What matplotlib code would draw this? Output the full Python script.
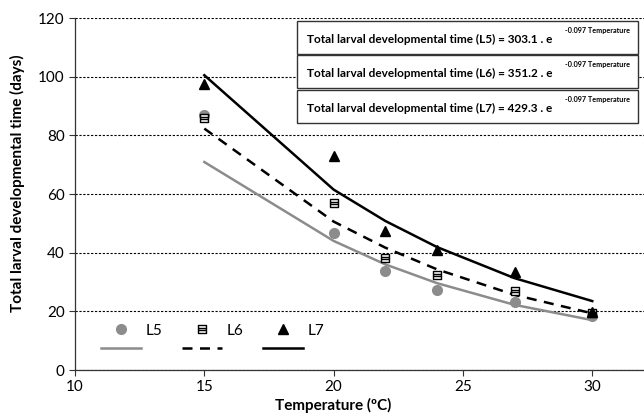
import numpy as np
import matplotlib
matplotlib.use("Agg")
import matplotlib.pyplot as plt
from matplotlib.path import Path
from matplotlib.lines import Line2D
from matplotlib.text import Annotation

plt.rcParams['font.family'] = ['Lato', 'DejaVu Sans']

# data
temps = [15, 20, 22, 24, 27, 30]
obs_l5 = [86.9, 46.6, 33.6, 27.4, 23.1, 18.4]
obs_l6 = [86.0, 56.8, 38.3, 32.4, 27.0, 19.4]
obs_l7 = [97.5, 73.0, 47.5, 41.0, 33.3, 19.9]
fit_l5 = [70.9, 44.0, 36.0, 29.6, 22.2, 17.0]
fit_l6 = [82.3, 50.6, 41.7, 34.3, 25.6, 19.3]
fit_l7 = [100.5, 61.5, 50.8, 41.9, 31.3, 23.5]
equations = [
    ("L5", "303.1"),
    ("L6", "351.2"),
    ("L7", "429.3"),
]
yticks = [0, 20, 40, 60, 80, 100, 120]
xticks = [10, 15, 20, 25, 30]

# square marker with two horizontal bars inside
sq_marker = Path(
    [(-1, -1), (1, -1), (1, 1), (-1, 1), (-1, -1),
     (-1, 0.33), (1, 0.33), (-1, -0.33), (1, -0.33)],
    [Path.MOVETO, Path.LINETO, Path.LINETO, Path.LINETO, Path.CLOSEPOLY,
     Path.MOVETO, Path.LINETO, Path.MOVETO, Path.LINETO])

fig = plt.figure(figsize=(6.44, 4.17), dpi=100)
ax = fig.add_axes([75 / 644, 47 / 417, 1 - 75 / 644, 352 / 417])

gray = '#8c8c8c'
ms_c, ms_s, ms_t = 7, 6, 7
ax.plot(temps, fit_l5, color=gray, lw=1.8, zorder=2)
ax.plot(temps, fit_l6, color='black', lw=1.8, ls=(0, (4, 3)), zorder=2)
ax.plot(temps, fit_l7, color='black', lw=1.8, zorder=2)
ax.plot(temps, obs_l5, ls='none', marker='o', ms=ms_c, color=gray, mec=gray, zorder=3)
ax.plot(temps, obs_l6, ls='none', marker=sq_marker, ms=ms_s, mfc='white', mec='black', mew=1.0, zorder=4)
ax.plot(temps, obs_l7, ls='none', marker='^', ms=ms_t, color='black', zorder=5)

ax.set_xlim(10, 32)
ax.set_ylim(0, 120)
ax.set_xticks(xticks)
ax.set_yticks(yticks)
ax.tick_params(labelsize=11, length=4, width=0.8, color='#333333')
ax.yaxis.grid(True, ls=(0, (2, 1.5)), color='black', lw=0.8)
for s in ['top', 'right']:
    ax.spines[s].set_visible(False)
for s in ['left', 'bottom']:
    ax.spines[s].set_color('#333333')
    ax.spines[s].set_linewidth(0.9)

ax.set_xlabel('Temperature (ºC)', fontsize=11, fontweight='bold')
ax.xaxis.set_label_coords((333 - 75) / 569, -0.08)
ax.set_ylabel('Total larval developmental time (days)', fontsize=11, fontweight='bold')
ax.yaxis.set_label_coords(-0.088, 0.53)

# legend: markers on first row, fitted lines on second row
handles = [
    Line2D([], [], ls='none', marker='o', ms=ms_c, color=gray),
    Line2D([], [], color=gray, lw=1.8),
    Line2D([], [], ls='none', marker=sq_marker, ms=ms_s, mfc='white', mec='black', mew=1.0),
    Line2D([], [], color='black', lw=1.8, ls=(0, (4, 3))),
    Line2D([], [], ls='none', marker='^', ms=ms_t, color='black'),
    Line2D([], [], color='black', lw=1.8),
]
labels = ['L5', '', 'L6', '', 'L7', '']
ax.legend(handles, labels, ncol=3, frameon=False, fontsize=11,
          handlelength=2.6, handletextpad=0.3, columnspacing=1.3,
          loc='lower left', bbox_to_anchor=(0.022, 0.0), labelspacing=0.3)

# equation boxes
box_tops = [21, 55, 90]
for (lab, coef), top in zip(equations, box_tops):
    rect = plt.Rectangle((297 / 644, 1 - (top + 33) / 417), 341 / 644, 33 / 417,
                         transform=fig.transFigure, fill=True, facecolor='white',
                         edgecolor='#333333', lw=1.0, zorder=1)
    fig.patches.append(rect)
    y0 = 1 - (top + 18) / 417
    t = fig.text(307 / 644, y0, f"Total larval developmental time ({lab}) = {coef} . e",
                 fontsize=8.5, fontweight='bold', va='center', ha='left', zorder=5)
    sup = Annotation("-0.097 Temperature", xy=(1, 1), xycoords=t, xytext=(9, 2),
                     textcoords='offset points', fontsize=5.2, fontweight='bold',
                     va='center', ha='left', annotation_clip=False, zorder=5)
    fig.add_artist(sup)

fig.savefig('out.png', dpi=100)
